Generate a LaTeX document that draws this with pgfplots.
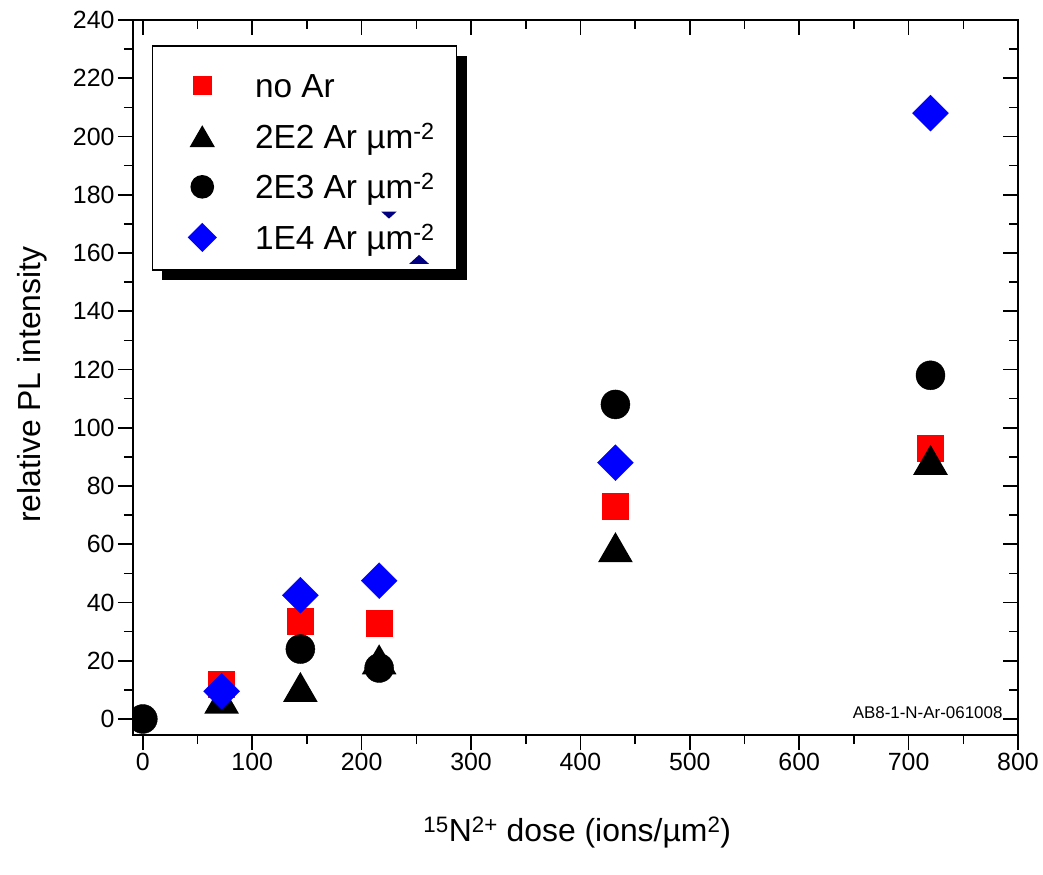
\documentclass[border=0pt]{standalone}
\usepackage{fontspec}
\setmainfont{Liberation Sans}
\usepackage{pgfplots}
\pgfplotsset{compat=1.18}
\usetikzlibrary{shadows}

\definecolor{navymark}{RGB}{0,0,128}

% filled equilateral triangle, centred on its bounding box
\pgfdeclareplotmark{tri}{%
  \pgfpathmoveto{\pgfqpoint{0pt}{\pgfplotmarksize}}%
  \pgfpathlineto{\pgfqpoint{1.1547\pgfplotmarksize}{-\pgfplotmarksize}}%
  \pgfpathlineto{\pgfqpoint{-1.1547\pgfplotmarksize}{-\pgfplotmarksize}}%
  \pgfpathclose\pgfusepathqfill}
% small flat triangle
\pgfdeclareplotmark{flattri}{%
  \pgfpathmoveto{\pgfqpoint{0pt}{\pgfplotmarksize}}%
  \pgfpathlineto{\pgfqpoint{2.2\pgfplotmarksize}{-\pgfplotmarksize}}%
  \pgfpathlineto{\pgfqpoint{-2.2\pgfplotmarksize}{-\pgfplotmarksize}}%
  \pgfpathclose\pgfusepathqfill}

\pgfplotsset{
  frame/.style={
    at={(0,0)}, anchor=south west,
    scale only axis, width=885bp, height=715bp,
    xmin=-9, xmax=800, ymin=-5.5, ymax=240,
    xtick={0,100,...,800}, ytick={0,20,...,240},
    minor x tick num=1, minor y tick num=1,
    major tick length=15bp, minor tick length=9bp,
    tick style={black, line width=1.6bp},
    axis line style={line width=1.6bp},
  }
}

\begin{document}
\begin{tikzpicture}
\path[use as bounding box] (-133bp,-140bp) rectangle (910bp,735bp);

\begin{axis}[
  frame,
  xtick pos=left, ytick pos=left,
  tick align=outside,
  ticklabel style={font=\fontsize{25}{30}\selectfont},
  /pgf/number format/assume math mode=true,
  xlabel={\textsuperscript{15}N\textsuperscript{2+} dose (ions/µm\textsuperscript{2})},
  ylabel={relative PL intensity},
  label style={font=\fontsize{32}{38}\selectfont},
  xlabel style={at={(axis description cs:0.502,-0.149)}, anchor=base},
  ylabel style={at={(axis description cs:-0.105,0.49)}, anchor=base},
  clip marker paths=true,
  legend image code/.code={%
    \path (-27bp,-9bp) (20bp,40bp);
    \draw[#1] plot coordinates {(0bp,12bp)};},
  legend style={
    at={(axis description cs:0.0211,0.965)}, anchor=north west,
    draw=black, line width=1.6bp, fill=white,
    general shadow={fill=black, shadow xshift=10bp, shadow yshift=-10bp},
    inner xsep=22bp, inner ysep=11bp,
    column sep=32bp, row sep=0bp,
    font=\fontsize{33.5}{40}\selectfont,
    cells={anchor=base west},
    nodes={inner sep=0bp, text height=24bp, text depth=7bp},
  },
]
\addlegendimage{only marks, mark=square*, color=red, mark size=8.5bp}
\addlegendentry{no Ar}
\addlegendimage{only marks, mark=tri, color=black, mark size=11bp}
\addlegendentry{2E2 Ar µm\textsuperscript{-2}}
\addlegendimage{only marks, mark=*, color=black, mark size=11bp}
\addlegendentry{2E3 Ar µm\textsuperscript{-2}}
\addlegendimage{only marks, mark=square*, color=blue, mark size=9.5bp, mark options={rotate=45}}
\addlegendentry{1E4 Ar µm\textsuperscript{-2}}

% no Ar
\addplot[forget plot, only marks, mark=square*, color=red, mark size=13bp]
  coordinates {(72,12) (144,33.5) (216,33) (432,73) (720,93)};
% 2E2 Ar um^-2
\addplot[forget plot, only marks, mark=tri, color=black, mark size=15bp]
  coordinates {(72,7) (144,11) (216,20.5) (432,59) (720,89)};
% 2E3 Ar um^-2
\addplot[forget plot, only marks, mark=*, color=black, mark size=14.5bp]
  coordinates {(0,0) (144,24) (216,17.5) (432,108) (720,118)};
% 1E4 Ar um^-2
\addplot[forget plot, only marks, mark=square*, color=blue, mark size=12.7bp, mark options={rotate=45}]
  coordinates {(72,9.5) (144,42.5) (216,47.5) (432,88) (720,208)};

\node[anchor=base east, font=\fontsize{17}{20}\selectfont] at (axis cs:789,0) {AB8-1-N-Ar-061008};
\end{axis}

% top and right axes with inward ticks; small stray marks drawn above the legend
\begin{axis}[
  frame,
  xtick pos=right, ytick pos=right,
  tick align=inside,
  xticklabels={}, yticklabels={},
]
\addplot[only marks, mark=flattri, color=navymark, mark size=3.5bp, mark options={rotate=180}]
  coordinates {(225,173)};
\addplot[only marks, mark=flattri, color=navymark, mark size=4.5bp]
  coordinates {(252.5,157.8)};
\end{axis}
\end{tikzpicture}
\end{document}
